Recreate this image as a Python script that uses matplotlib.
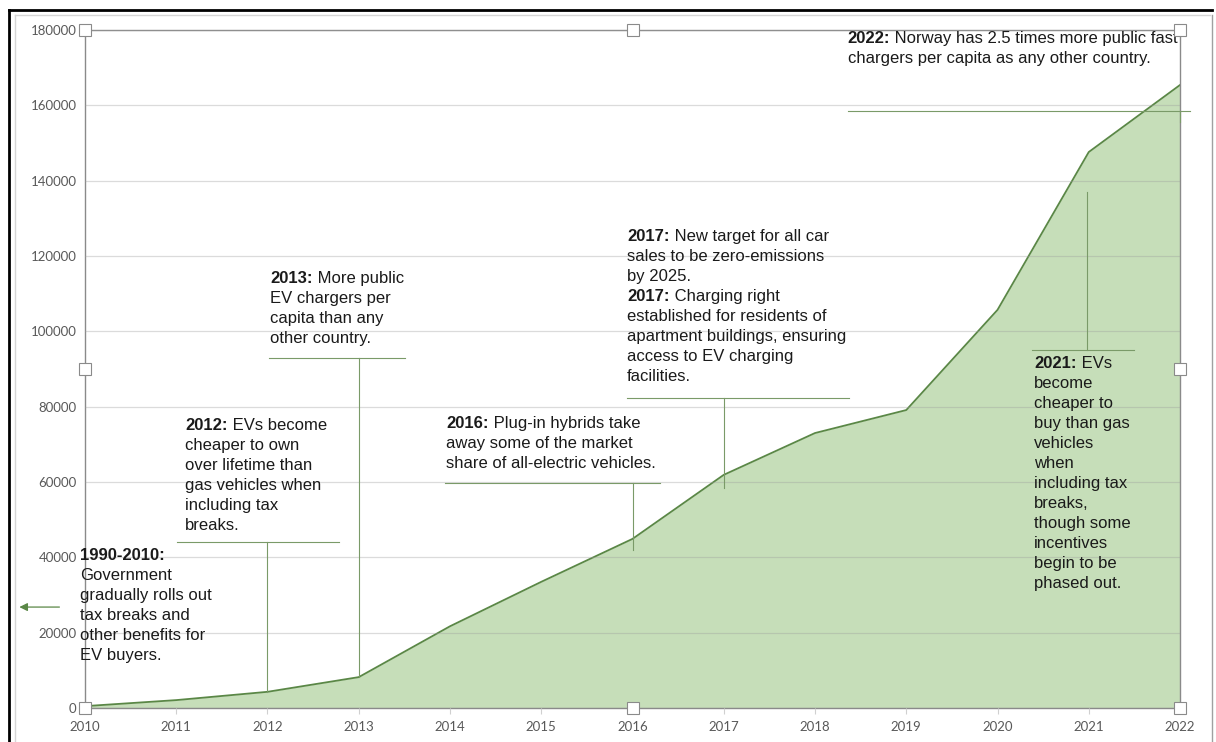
import matplotlib.pyplot as plt
from matplotlib.lines import Line2D

plt.rcParams['font.family'] = ['Liberation Sans', 'DejaVu Sans']

years = list(range(2010, 2023))
ev_count = [500, 2100, 4300, 8200, 21700, 33500, 44900, 61900, 73000, 79100, 105700, 147600, 165400]
y_ticks = list(range(0, 180001, 20000))

# each note line is (bold part, regular part)
note_1990 = [("1990-2010:", ""), ("", "Government"), ("", "gradually rolls out"),
             ("", "tax breaks and"), ("", "other benefits for"), ("", "EV buyers.")]
note_2012 = [("2012:", " EVs become"), ("", "cheaper to own"), ("", "over lifetime than"),
             ("", "gas vehicles when"), ("", "including tax"), ("", "breaks.")]
note_2013 = [("2013:", " More public"), ("", "EV chargers per"), ("", "capita than any"),
             ("", "other country.")]
note_2016 = [("2016:", " Plug-in hybrids take"), ("", "away some of the market"),
             ("", "share of all-electric vehicles.")]
note_2017 = [("2017:", " New target for all car"), ("", "sales to be zero-emissions"),
             ("", "by 2025."), ("2017:", " Charging right"), ("", "established for residents of"),
             ("", "apartment buildings, ensuring"), ("", "access to EV charging"), ("", "facilities.")]
note_2021 = [("2021:", " EVs"), ("", "become"), ("", "cheaper to"), ("", "buy than gas"),
             ("", "vehicles"), ("", "when"), ("", "including tax"), ("", "breaks,"),
             ("", "though some"), ("", "incentives"), ("", "begin to be"), ("", "phased out.")]
note_2022 = [("2022:", " Norway has 2.5 times more public fast"),
             ("", "chargers per capita as any other country.")]

FILL = '#c6deb9'
EDGE = '#5a8746'
CALLOUT = '#7a9a68'
TEXT = '#1a1a1a'
LINE_PT = 14.4
FS = 12

fig = plt.figure(figsize=(12.16, 7.42), dpi=100)
ax = fig.add_axes([0.0699, 0.0458, 0.9005, 0.9138])

ax.fill_between(years, ev_count, color=FILL, lw=0, zorder=1)
ax.plot(years, ev_count, color=EDGE, lw=1.3, zorder=2)

ax.set_xlim(2010, 2022)
ax.set_ylim(0, 180000)
ax.set_xticks(years)
ax.set_yticks(y_ticks)
ax.set_xticklabels([str(y) for y in years], family='Lato', fontsize=9.5, color='#595959')
ax.set_yticklabels([str(v) for v in y_ticks], family='Lato', fontsize=9.5, color='#595959')
ax.tick_params(axis='x', length=4, color='#d0d0d0', pad=5)
ax.tick_params(axis='y', length=0, pad=6)
ax.grid(axis='y', color='#9a9a9a', alpha=0.35, lw=0.9)
ax.set_axisbelow(False)
for s in ax.spines.values():
    s.set_color('#8a8a8a')
    s.set_linewidth(1.0)


def draw_note(x, y, lines):
    for i, (bold, rest) in enumerate(lines):
        off = (0, -i * LINE_PT)
        if bold:
            t = ax.annotate(bold, (x, y), xytext=off, textcoords='offset points',
                            fontsize=FS, weight='bold', color=TEXT, va='top', ha='left',
                            annotation_clip=False, zorder=4)
            if rest:
                ax.annotate(rest, xy=(1, 1), xycoords=t, fontsize=FS, color=TEXT,
                            va='top', ha='left', zorder=4)
        else:
            ax.annotate(rest, (x, y), xytext=off, textcoords='offset points',
                        fontsize=FS, color=TEXT, va='top', ha='left',
                        annotation_clip=False, zorder=4)


def callout(x0, x1, yh, xv, yv):
    ax.plot([x0, x1], [yh, yh], color=CALLOUT, lw=0.8, clip_on=False, zorder=3)
    ax.plot([xv, xv], [yh, yv], color=CALLOUT, lw=0.8, clip_on=False, zorder=3)


draw_note(2009.945, 42500, note_1990)
draw_note(2011.10, 77000, note_2012)
draw_note(2012.03, 116000, note_2013)
draw_note(2013.96, 77500, note_2016)
draw_note(2015.94, 127200, note_2017)
draw_note(2020.40, 93400, note_2021)
draw_note(2018.36, 179700, note_2022)

callout(2011.01, 2012.78, 44000, 2012, ev_count[2])
callout(2012.02, 2013.51, 93000, 2013, ev_count[3])
callout(2013.95, 2016.30, 59700, 2016, 42000)
callout(2015.94, 2018.37, 82300, 2017, 58400)
callout(2020.38, 2021.50, 95000, 2020.98, 137000)
callout(2018.36, 2022.11, 158500, 2022, 155500)

ax.annotate('', xy=(2009.25, 26800), xytext=(2009.75, 26800),
            arrowprops=dict(arrowstyle='-|>', color=EDGE, lw=0.9, mutation_scale=12),
            annotation_clip=False)

# selection handles around the chart
for hx, hy in [(0, 0), (0.5, 0), (1, 0), (0, 0.5), (1, 0.5), (0, 1), (0.5, 1), (1, 1)]:
    ax.plot(hx, hy, marker='s', ms=9, mfc='white', mec='#8a8a8a', mew=0.8,
            transform=ax.transAxes, clip_on=False, zorder=6)

# window frame
fig.add_artist(Line2D([0.0078, 0.0078], [0, 0.986], color='black', lw=2))
fig.add_artist(Line2D([0.0078, 0.997], [0.986, 0.986], color='black', lw=2))
fig.add_artist(Line2D([0.0125, 0.0125], [0, 0.98], color='#d5d5d5', lw=1))
fig.add_artist(Line2D([0.0125, 0.995], [0.98, 0.98], color='#d5d5d5', lw=1))
fig.add_artist(Line2D([0.9965, 0.9965], [0, 0.98], color='#a0a0a0', lw=1))

fig.savefig('out.png', dpi=100, facecolor='white')
